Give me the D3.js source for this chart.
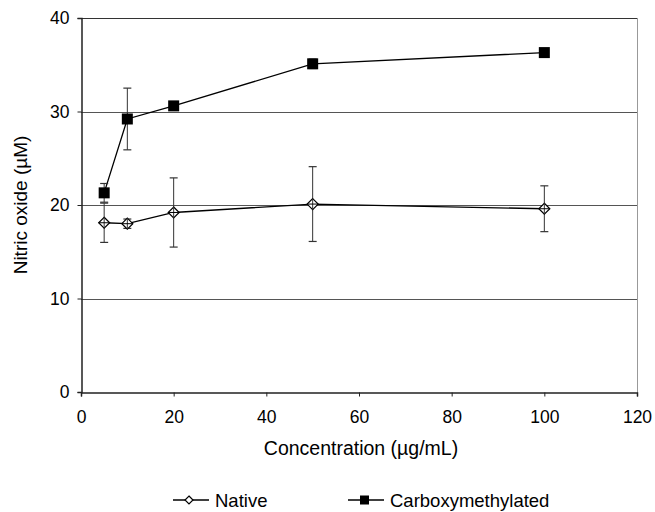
<!DOCTYPE html>
<head>
    <meta charset="utf-8">
    <script src="https://cdn.jsdelivr.net/npm/d3@7"></script>
    <style>
        body { margin: 0; background: #fff; }
        text { font-family: "Liberation Sans", Arial, sans-serif; fill: #000; }
        .grid line { stroke: #555; stroke-width: 1; }
    </style>
</head>
<body>
    <svg width="655" height="512"></svg>
    <script>
        var width = 655, height = 512;
        var margin = { top: 18, right: 18, bottom: 120, left: 81 };

        // data
        var concentrations = [5, 10, 20, 50, 100];
        var nativeMean = [18.1, 18.0, 19.2, 20.1, 19.6];
        var nativeErr = [2.1, 0.5, 3.7, 4.0, 2.45];
        var carboxyMean = [21.3, 29.2, 30.6, 35.1, 36.3];
        var carboxyErr = [1.0, 3.3, 0.3, 0.5, 0];
        var xTicks = [0, 20, 40, 60, 80, 100, 120];
        var yTicks = [0, 10, 20, 30, 40];

        var svg = d3.select("svg");

        var x = d3.scaleLinear().domain([0, 120]).range([margin.left, 637]);
        var y = d3.scaleLinear().domain([0, 40]).range([392, margin.top]);

        // horizontal grid lines
        svg.append("g")
            .attr("class", "grid")
            .selectAll("line")
            .data(yTicks.filter(d => d > 0 && d < 40))
            .enter().append("line")
            .attr("x1", x(0)).attr("x2", x(120))
            .attr("y1", d => Math.round(y(d)) + 0.5)
            .attr("y2", d => Math.round(y(d)) + 0.5);

        // frame: top dark, right grey
        svg.append("line")
            .attr("x1", x(0)).attr("x2", x(120))
            .attr("y1", y(40) + 0.5).attr("y2", y(40) + 0.5)
            .attr("stroke", "#333");
        svg.append("line")
            .attr("x1", x(120) + 0.5).attr("x2", x(120) + 0.5)
            .attr("y1", y(40)).attr("y2", y(0))
            .attr("stroke", "#999");

        var xAxis = svg.append("g")
            .attr("transform", "translate(0," + (Math.round(y(0)) + 0.5) + ")")
            .call(d3.axisBottom(x).tickValues(xTicks).tickSize(4).tickPadding(14));
        var yAxis = svg.append("g")
            .attr("transform", "translate(" + (Math.round(x(0)) + 0.5) + ",0)")
            .call(d3.axisLeft(y).tickValues(yTicks).tickSize(4).tickPadding(8));

        [xAxis, yAxis].forEach(function (g) {
            g.select(".domain").attr("stroke", "#222").attr("stroke-width", 1.5);
            g.selectAll(".tick line").attr("stroke", "#222");
            g.selectAll("text").style("font-size", "17.5px").attr("fill", "#000");
        });

        svg.append("text")
            .attr("x", 361).attr("y", 455)
            .attr("text-anchor", "middle")
            .style("font-size", "19.5px")
            .text("Concentration (\u00b5g/mL)");

        svg.append("text")
            .attr("transform", "translate(27,205) rotate(-90)")
            .attr("text-anchor", "middle")
            .style("font-size", "19px")
            .text("Nitric oxide (\u00b5M)");

        var series = [
            { name: "Native", mean: nativeMean, err: nativeErr, shape: "diamond" },
            { name: "Carboxymethylated", mean: carboxyMean, err: carboxyErr, shape: "square" }
        ];

        var line = d3.line().x(d => x(d[0])).y(d => y(d[1]));

        series.forEach(function (s) {
            var pts = concentrations.map((c, i) => [c, s.mean[i], s.err[i]]);
            var g = svg.append("g");

            g.append("path")
                .datum(pts)
                .attr("d", line)
                .attr("fill", "none")
                .attr("stroke", "#000")
                .attr("stroke-width", 1.3);

            // error bars
            pts.filter(p => p[2] > 0).forEach(function (p) {
                var cx = x(p[0]), top = y(p[1] + p[2]), bot = y(p[1] - p[2]);
                g.append("line").attr("x1", cx).attr("x2", cx).attr("y1", top).attr("y2", bot)
                    .attr("stroke", "#333").attr("stroke-width", 1);
                [top, bot].forEach(function (yy) {
                    g.append("line").attr("x1", cx - 4).attr("x2", cx + 4)
                        .attr("y1", yy).attr("y2", yy)
                        .attr("stroke", "#333").attr("stroke-width", 1.2);
                });
            });

            pts.forEach(function (p) {
                var cx = x(p[0]), cy = y(p[1]);
                if (s.shape === "diamond") {
                    g.append("path")
                        .attr("d", "M" + cx + "," + (cy - 5.5) + "L" + (cx + 5.5) + "," + cy +
                            "L" + cx + "," + (cy + 5.5) + "L" + (cx - 5.5) + "," + cy + "Z")
                        .attr("fill", "#fff").attr("stroke", "#000").attr("stroke-width", 1.2);
                    g.append("line").attr("x1", cx).attr("x2", cx)
                        .attr("y1", cy - 5.5).attr("y2", cy + 5.5)
                        .attr("stroke", "#333").attr("stroke-width", 1);
                    g.append("line").attr("x1", cx - 5.5).attr("x2", cx + 5.5)
                        .attr("y1", cy).attr("y2", cy)
                        .attr("stroke", "#000").attr("stroke-width", 1);
                } else {
                    g.append("rect")
                        .attr("x", cx - 5.5).attr("y", cy - 5.5)
                        .attr("width", 11).attr("height", 11)
                        .attr("fill", "#000");
                }
            });
        });

        // legend
        var legendX = [173, 348];
        series.forEach(function (s, i) {
            var lg = svg.append("g");
            var x0 = legendX[i], ly = 500;
            lg.append("line").attr("x1", x0).attr("x2", x0 + 36)
                .attr("y1", ly).attr("y2", ly)
                .attr("stroke", "#000").attr("stroke-width", 1.3);
            if (s.shape === "diamond") {
                lg.append("path")
                    .attr("d", "M" + (x0 + 16) + "," + (ly - 4) + "L" + (x0 + 20) + "," + ly +
                        "L" + (x0 + 16) + "," + (ly + 4) + "L" + (x0 + 12) + "," + ly + "Z")
                    .attr("fill", "#fff").attr("stroke", "#000").attr("stroke-width", 1.2);
            } else {
                lg.append("rect").attr("x", x0 + 12).attr("y", ly - 4.5)
                    .attr("width", 9).attr("height", 9).attr("fill", "#000");
            }
            lg.append("text")
                .attr("x", x0 + 42).attr("y", ly + 6.5)
                .style("font-size", "18.5px")
                .text(s.name);
        });
    </script>
</body>
